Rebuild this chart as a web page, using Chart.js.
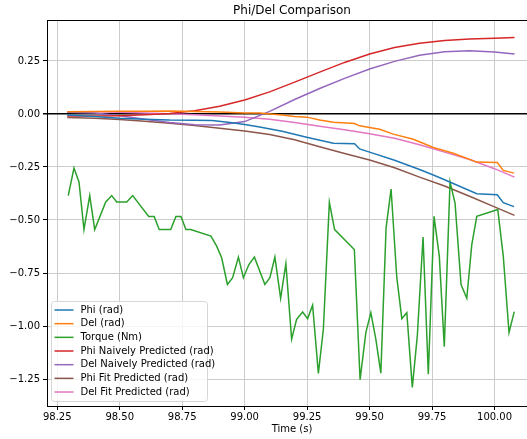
<!DOCTYPE html>
<html>
<head>
<meta charset="utf-8">
<script src="https://cdn.jsdelivr.net/npm/chart.js@4"></script>
<style>
  html, body { margin: 0; padding: 0; background: #fff; overflow: hidden; }
  #wrap { width: 537px; height: 439px; }
</style>
</head>
<body>
<div id="wrap"><canvas id="grafico" width="537" height="439"></canvas></div>
<script>
const chartTitle = 'Phi/Del Comparison';
const xTitle = 'Time (s)';
const xTicks = [98.25, 98.5, 98.75, 99.0, 99.25, 99.5, 99.75, 100.0];
const yTicks = [-1.25, -1.0, -0.75, -0.5, -0.25, 0, 0.25];

const seriesNames = ['Phi (rad)', 'Del (rad)', 'Torque (Nm)', 'Phi Naively Predicted (rad)',
  'Del Naively Predicted (rad)', 'Phi Fit Predicted (rad)', 'Del Fit Predicted (rad)'];
const seriesColors = ['#1f77b4', '#ff7f0e', '#2ca02c', '#d62728', '#9467bd', '#8c564b', '#e377c2'];

// measured phi
const phiTime = [98.29, 98.4, 98.5, 98.6, 98.7, 98.8, 98.87, 98.95, 99.0, 99.06, 99.15, 99.248,
  99.355, 99.44, 99.46, 99.5, 99.6, 99.7, 99.755, 99.8, 99.929, 100.011, 100.035, 100.078];
const phi = [-0.005, -0.012, -0.02, -0.025, -0.029, -0.030, -0.031, -0.042, -0.050, -0.062, -0.082, -0.110,
  -0.138, -0.140, -0.165, -0.180, -0.218, -0.262, -0.288, -0.310, -0.376, -0.381, -0.418, -0.437];

// measured del
const delTime = [98.29, 98.4, 98.5, 98.6, 98.7, 98.8, 98.9, 99.0, 99.06, 99.15, 99.2, 99.25, 99.3,
  99.355, 99.44, 99.46, 99.54, 99.595, 99.675, 99.755, 99.835, 99.929, 100.011, 100.035, 100.078];
const del = [0.010, 0.012, 0.013, 0.013, 0.014, 0.012, 0.009, 0.005, 0.004, -0.005, -0.012, -0.015, -0.028,
  -0.039, -0.045, -0.056, -0.072, -0.095, -0.119, -0.158, -0.185, -0.227, -0.229, -0.266, -0.279];

// torque
const torqueTime = [98.294, 98.317, 98.337, 98.357, 98.380, 98.400, 98.444, 98.468, 98.488, 98.528,
  98.552, 98.616, 98.638, 98.658, 98.704, 98.725, 98.745, 98.765, 98.784, 98.865, 98.888, 98.908,
  98.931, 98.952, 98.975, 98.995, 99.017, 99.039, 99.081, 99.101, 99.121, 99.144, 99.165, 99.188,
  99.208, 99.232, 99.252, 99.272, 99.295, 99.315, 99.339, 99.360, 99.439, 99.462, 99.485, 99.505,
  99.525, 99.545, 99.566, 99.586, 99.609, 99.629, 99.649, 99.671, 99.691, 99.714, 99.735, 99.758,
  99.779, 99.799, 99.822, 99.842, 99.866, 99.889, 99.909, 99.929, 100.013, 100.035, 100.058, 100.079];
const torque = [-0.385, -0.255, -0.321, -0.545, -0.385, -0.545, -0.415, -0.385, -0.415, -0.415,
  -0.385, -0.483, -0.483, -0.545, -0.545, -0.483, -0.483, -0.545, -0.545, -0.576, -0.623, -0.678,
  -0.804, -0.772, -0.675, -0.772, -0.710, -0.675, -0.804, -0.772, -0.675, -0.869, -0.706, -1.062,
  -0.968, -0.934, -0.965, -0.902, -1.223, -1.015, -0.417, -0.545, -0.639, -1.253, -1.031, -0.937,
  -1.062, -1.222, -0.537, -0.354, -0.772, -0.965, -0.937, -1.289, -1.046, -0.580, -1.227, -0.483,
  -0.670, -1.097, -0.321, -0.420, -0.804, -0.869, -0.616, -0.483, -0.451, -0.670, -1.031, -0.932];

// predictions
const predTime = [98.29, 98.4, 98.5, 98.6, 98.7, 98.8, 98.9, 99.0, 99.1, 99.2, 99.3, 99.4, 99.5,
  99.6, 99.7, 99.8, 99.9, 100.0, 100.08];
const phiNaive = [-0.010, -0.010, -0.008, -0.004, 0.002, 0.015, 0.036, 0.066, 0.104, 0.150, 0.197,
  0.243, 0.283, 0.313, 0.333, 0.346, 0.353, 0.357, 0.360];
const delNaive = [0.008, 0.004, -0.008, -0.025, -0.040, -0.051, -0.052, -0.036, 0.012, 0.068, 0.120,
  0.168, 0.212, 0.248, 0.277, 0.293, 0.298, 0.292, 0.283];
const phiFit = [-0.017, -0.020, -0.026, -0.034, -0.044, -0.055, -0.067, -0.080, -0.097, -0.122, -0.155,
  -0.186, -0.217, -0.254, -0.298, -0.340, -0.388, -0.438, -0.478];
const delFit = [0.010, 0.010, 0.008, 0.005, 0.001, -0.004, -0.010, -0.016, -0.025, -0.040, -0.058,
  -0.075, -0.093, -0.115, -0.145, -0.180, -0.215, -0.258, -0.298];

const pares = (xs, ys) => xs.map((x, i) => ({ x: x, y: ys[i] }));

const allSeries = [
  pares(phiTime, phi),
  pares(delTime, del),
  pares(torqueTime, torque),
  pares(predTime, phiNaive),
  pares(predTime, delNaive),
  pares(predTime, phiFit),
  pares(predTime, delFit)
];

Chart.defaults.font.family = '"DejaVu Sans", sans-serif';
Chart.defaults.font.size = 10;
Chart.defaults.color = '#000';

// title, top spine and matplotlib-like legend
const extras = {
  id: 'extras',
  afterDraw(chart) {
    const ctx = chart.ctx;
    const a = chart.chartArea;
    ctx.save();
    ctx.strokeStyle = '#000';
    ctx.lineWidth = 1;
    ctx.beginPath();
    ctx.moveTo(a.left, a.top + 0.5);
    ctx.lineTo(a.right, a.top + 0.5);
    ctx.stroke();

    ctx.fillStyle = '#000';
    ctx.font = '12px "DejaVu Sans"';
    ctx.textAlign = 'center';
    ctx.textBaseline = 'middle';
    ctx.fillText(chartTitle, (a.left + a.right) / 2, 10.5);

    const bx = a.left + 4.5, by = a.bottom - 104.5, bw = 156, bh = 100;
    ctx.fillStyle = 'rgba(255,255,255,0.8)';
    ctx.strokeStyle = '#d6d6d6';
    ctx.lineWidth = 1;
    ctx.beginPath();
    ctx.roundRect(bx, by, bw, bh, 3);
    ctx.fill();
    ctx.stroke();

    ctx.font = '10px "DejaVu Sans"';
    ctx.textAlign = 'left';
    ctx.textBaseline = 'middle';
    chart.data.datasets.forEach((ds, i) => {
      const y = by + 8.5 + i * 13.67;
      ctx.strokeStyle = ds.borderColor;
      ctx.lineWidth = 1.5;
      ctx.beginPath();
      ctx.moveTo(bx + 3, y);
      ctx.lineTo(bx + 22, y);
      ctx.stroke();
      ctx.fillStyle = '#000';
      ctx.fillText(ds.label, bx + 29, y);
    });
    ctx.restore();
  }
};

const ctx = document.getElementById('grafico');
new Chart(ctx, {
  type: 'line',
  data: {
    datasets: allSeries.map((d, i) => ({
      label: seriesNames[i],
      data: d,
      borderColor: seriesColors[i],
      backgroundColor: seriesColors[i],
      borderWidth: 1.5,
      pointRadius: 0,
      tension: 0,
      fill: false
    }))
  },
  options: {
    responsive: false,
    animation: false,
    devicePixelRatio: 1,
    layout: { padding: { top: 20, left: 0, right: 0, bottom: 0 } },
    plugins: {
      legend: { display: false },
      title: { display: false },
      tooltip: { enabled: false }
    },
    scales: {
      x: {
        type: 'linear',
        min: 98.209,
        max: 100.170,
        afterFit: s => { s.height = 33; },
        afterBuildTicks: s => { s.ticks = xTicks.map(v => ({ value: v })); },
        ticks: {
          autoSkip: false,
          maxRotation: 0,
          padding: 1,
          callback: v => v.toFixed(2)
        },
        grid: { color: '#cccccc', lineWidth: 1, tickLength: 4, tickColor: '#000' },
        border: { color: '#000', width: 1 },
        title: { display: true, text: xTitle, padding: { top: 0, bottom: 4 } }
      },
      y: {
        min: -1.377,
        max: 0.443,
        afterFit: s => { s.width = 47; },
        afterBuildTicks: s => { s.ticks = yTicks.map(v => ({ value: v })); },
        ticks: {
          padding: 3,
          callback: v => v.toFixed(2).replace('-', '\u2212')
        },
        grid: {
          color: c => (c.tick && c.tick.value === 0) ? '#000' : '#cccccc',
          lineWidth: c => (c.tick && c.tick.value === 0) ? 1.5 : 1,
          tickLength: 4,
          tickColor: '#000'
        },
        border: { color: '#000', width: 1 }
      }
    }
  },
  plugins: [extras]
});
</script>
</body>
</html>
